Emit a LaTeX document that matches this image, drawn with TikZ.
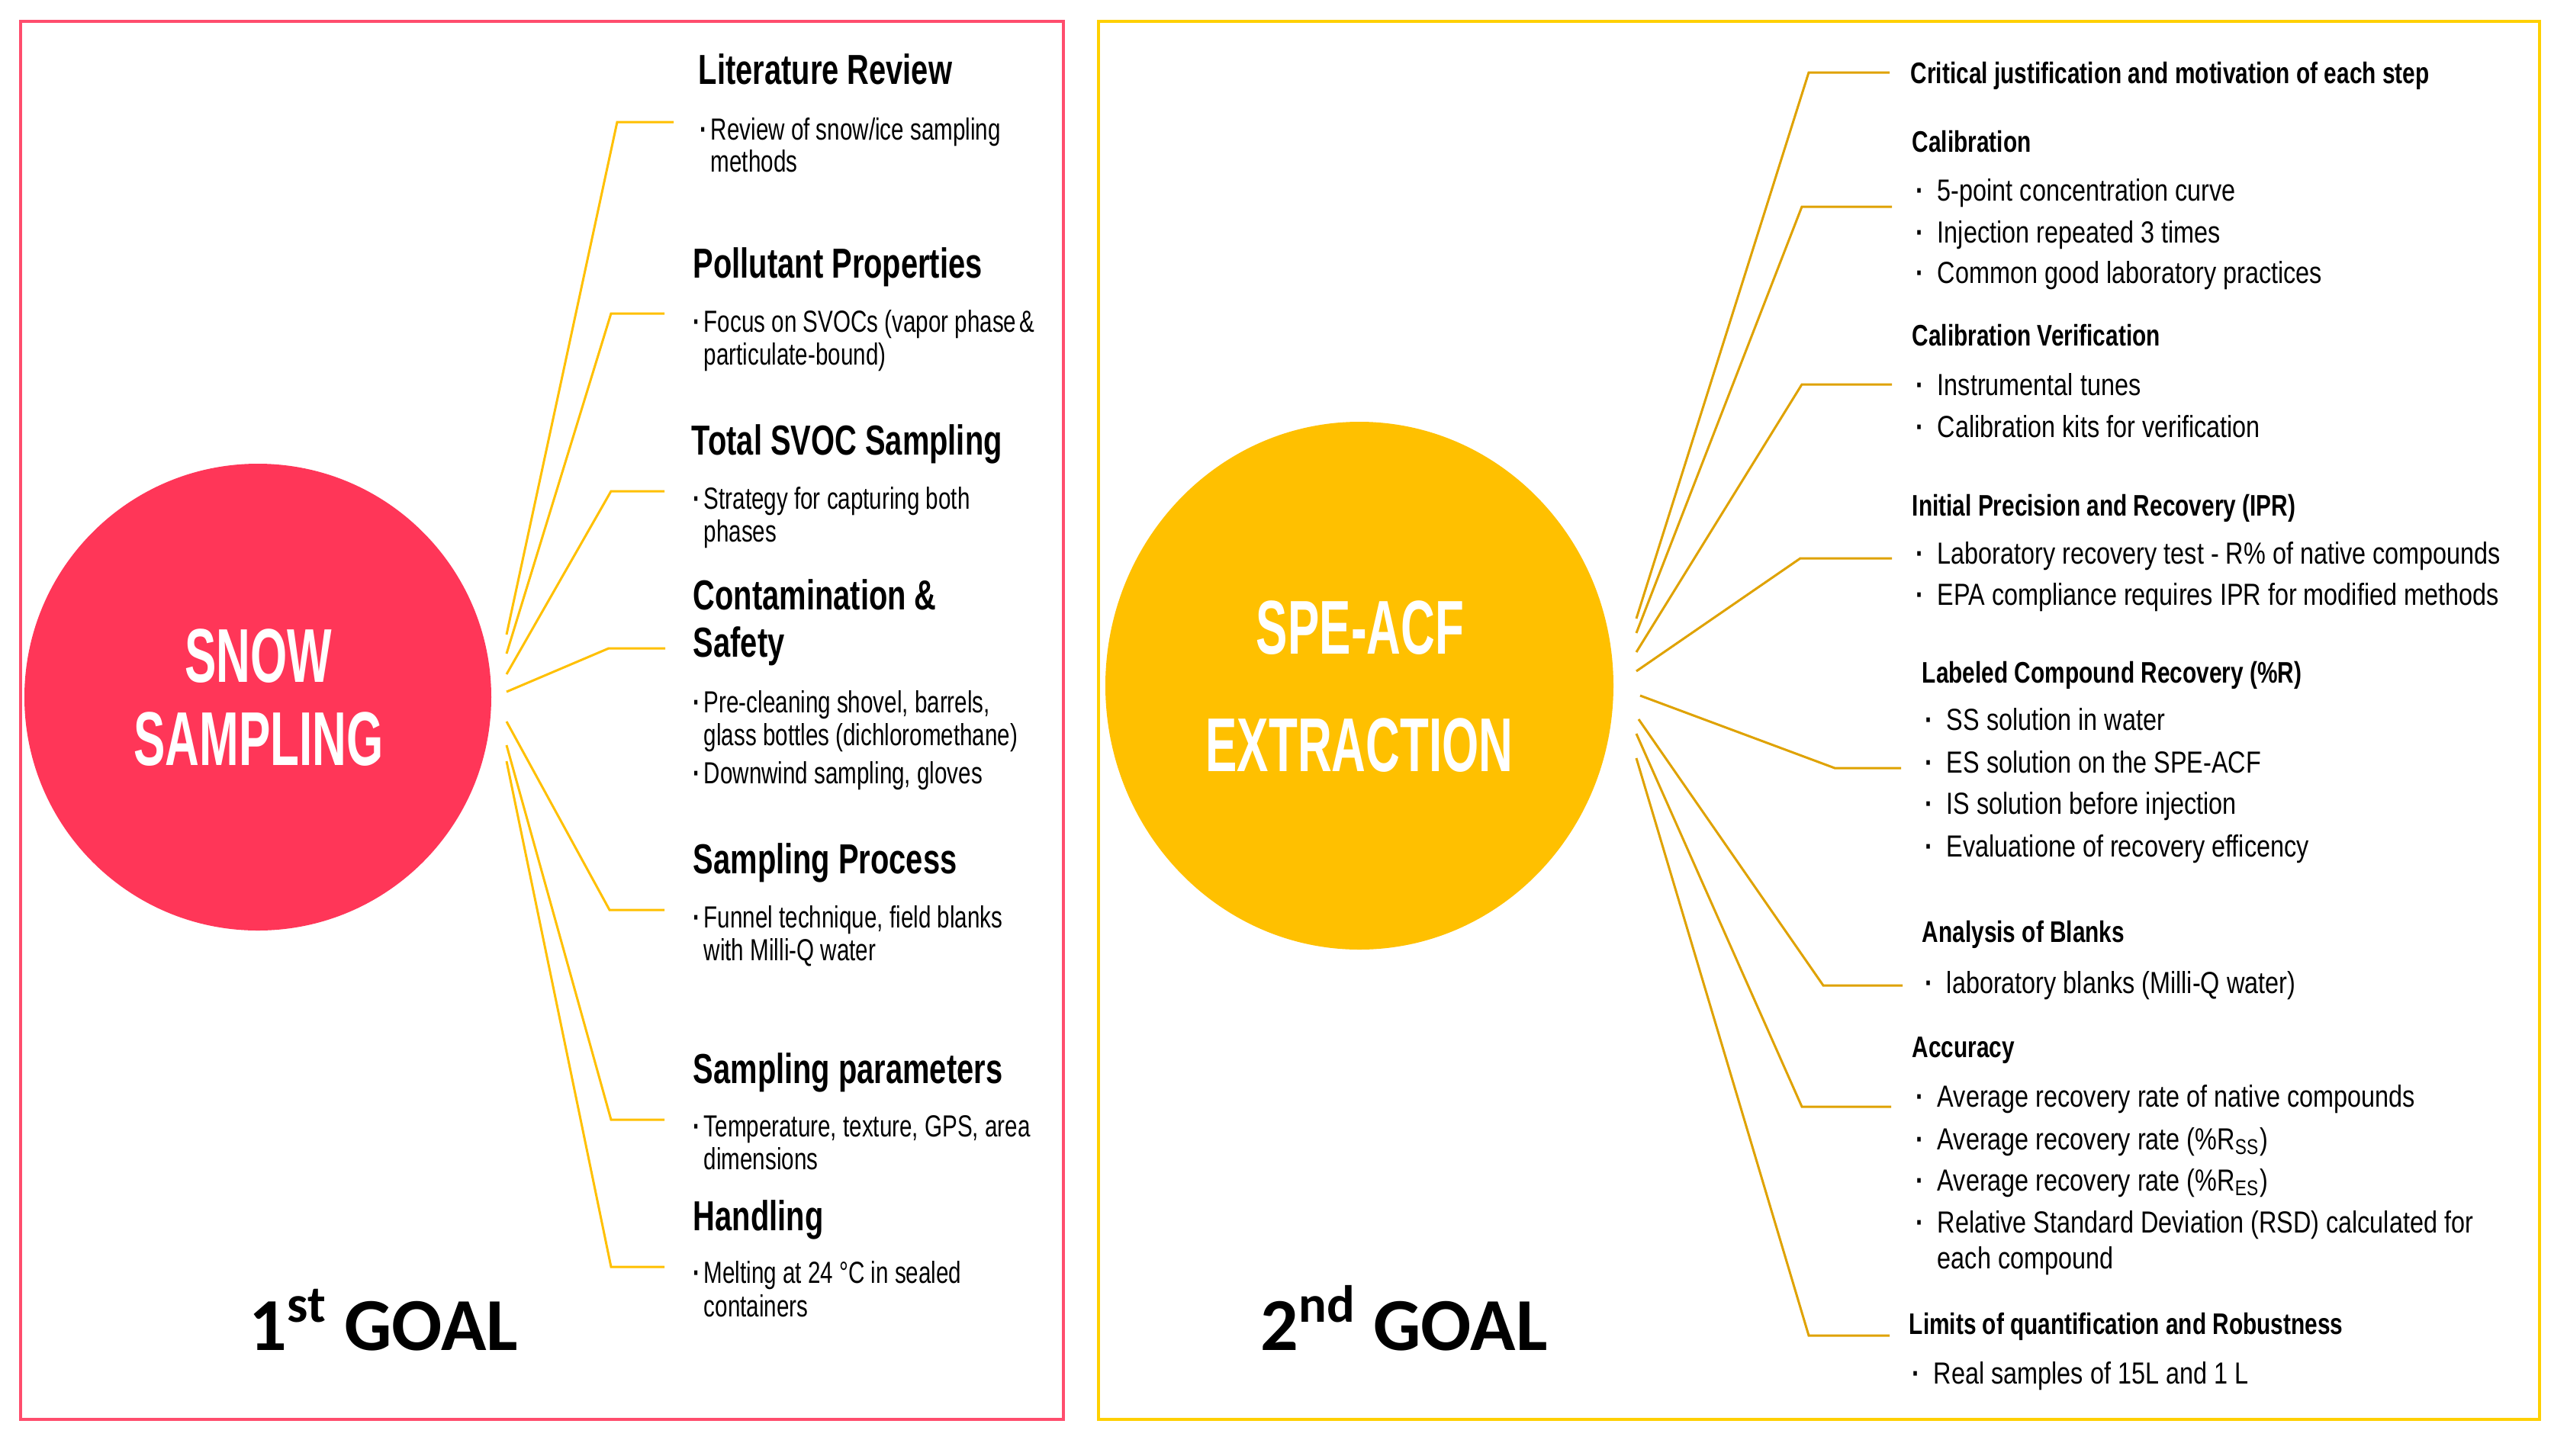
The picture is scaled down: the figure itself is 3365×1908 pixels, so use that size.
\documentclass[tikz,border=0pt]{standalone}
\usepackage{fontspec}
\usetikzlibrary{shapes.geometric}
\newfontfamily\condf[FakeStretch=0.74]{Liberation Sans}
\newfontfamily\condh[FakeStretch=0.725]{Liberation Sans}
\newfontfamily\condrh[FakeStretch=0.765]{Liberation Sans}
\newfontfamily\condr[FakeStretch=0.81]{Liberation Sans}
\newfontfamily\centf[FakeStretch=0.62]{Liberation Sans}
\newfontfamily\goalf{Carlito}
\definecolor{snowred}{HTML}{FF3658}
\definecolor{speyel}{HTML}{FFC000}
\definecolor{lborder}{HTML}{FF4D6D}
\definecolor{rborder}{HTML}{FFD000}
\definecolor{lconncol}{HTML}{FFC000}
\definecolor{rconncol}{HTML}{DFA200}
\newcommand\lbul{\makebox[3.5pt][l]{\textbf{·}}}
\newcommand\rbul{\makebox[7pt][l]{\textbf{·}}}
\tikzset{
  lhead/.style={anchor=base west, inner sep=0pt, font=\condh\bfseries\fontsize{13.75}{15.5}\selectfont},
  ltext/.style={anchor=base west, inner sep=0pt, font=\condf\fontsize{10}{10.75}\selectfont},
  rhead/.style={anchor=base west, inner sep=0pt, font=\condrh\bfseries\fontsize{9.75}{11}\selectfont},
  rtext/.style={anchor=base west, inner sep=0pt, font=\condr\fontsize{10}{11.75}\selectfont},
  centre/.style={anchor=base, inner sep=0pt, text=white, font=\centf\bfseries\fontsize{25}{27}\selectfont},
  goal/.style={anchor=base west, inner sep=0pt, font=\goalf\bfseries\fontsize{24.5}{26}\selectfont},
  lconn/.style={draw=lconncol, line width=0.75pt, line join=miter},
  rconn/.style={draw=rconncol, line width=0.75pt, line join=miter},
}
\begin{document}
\begin{tikzpicture}[x=0.25pt,y=-0.25pt]
\useasboundingbox[fill=white] (0,0) rectangle (3365,1908);
% panels
\draw[lborder, line width=0.8pt] (27,28) rectangle (1394,1861) node[pos=0, inner sep=0] (lpanel) {};
\draw[rborder, line width=0.8pt] (1440,28) rectangle (3329,1861) node[pos=0, inner sep=0] (rpanel) {};
% circles
\node[circle, fill=snowred, minimum size=153pt, inner sep=0] (snow) at (338,914) {};
\node[ellipse, fill=speyel, minimum width=166.5pt, minimum height=173pt, inner sep=0] (spe) at (1782,899) {};
\node[centre] (snowa) at (339,894) {SNOW};
\node[centre] (snowb) at (339,1003) {SAMPLING};
\node[centre] (spea) at (1783,857) {SPE-ACF};
\node[centre] (speb) at (1782,1011) {EXTRACTION};
% goals
\node[goal] (goal1) at (326,1770) {1\textsuperscript{st} GOAL};
\node[goal] (goal2) at (1652,1770) {2\textsuperscript{nd} GOAL};
% ---------------- left texts
\node[lhead] (lh1) at (915,110) {Literature Review};
\node[ltext] (lt1a) at (917,183) {\lbul Review of snow/ice sampling};
\node[ltext] (lt1b) at (931,225) {methods};
\node[lhead] (lh2) at (908,364) {Pollutant Properties};
\node[ltext] (lt2a) at (908,435) {\lbul Focus on SVOCs (vapor phase\kern1pt\&};
\node[ltext] (lt2b) at (922,478) {particulate-bound)};
\node[lhead] (lh3) at (906,596) {Total SVOC Sampling};
\node[ltext] (lt3a) at (908,667) {\lbul Strategy for capturing both};
\node[ltext] (lt3b) at (922,710) {phases};
\node[lhead] (lh4a) at (908,799) {Contamination \&};
\node[lhead] (lh4b) at (908,861) {Safety};
\node[ltext] (lt4a) at (908,934) {\lbul Pre-cleaning shovel, barrels,};
\node[ltext] (lt4b) at (922,977) {glass bottles (dichloromethane)};
\node[ltext] (lt4c) at (908,1027) {\lbul Downwind sampling, gloves};
\node[lhead] (lh5) at (908,1145) {Sampling Process};
\node[ltext] (lt5a) at (908,1216) {\lbul Funnel technique, field blanks};
\node[ltext] (lt5b) at (922,1259) {with Milli-Q water};
\node[lhead] (lh6) at (908,1420) {Sampling parameters};
\node[ltext] (lt6a) at (908,1490) {\lbul Temperature, texture, GPS, area};
\node[ltext] (lt6b) at (922,1533) {dimensions};
\node[lhead] (lh7) at (908,1613) {Handling};
\node[ltext] (lt7a) at (908,1682) {\lbul Melting at 24 °C in sealed};
\node[ltext] (lt7b) at (922,1726) {containers};
% left connectors
\coordinate (ls1) at (664,832);  \coordinate (lc1) at (809,160);  \coordinate (le1) at (883,160);
\coordinate (ls2) at (664,857);  \coordinate (lc2) at (801,411);  \coordinate (le2) at (871,411);
\coordinate (ls3) at (664,884);  \coordinate (lc3) at (801,644);  \coordinate (le3) at (871,644);
\coordinate (ls4) at (664,907);  \coordinate (lc4) at (798,850);  \coordinate (le4) at (872,850);
\coordinate (ls5) at (664,946);  \coordinate (lc5) at (799,1193); \coordinate (le5) at (871,1193);
\coordinate (ls6) at (664,977);  \coordinate (lc6) at (801,1468); \coordinate (le6) at (871,1468);
\coordinate (ls7) at (664,998);  \coordinate (lc7) at (801,1661); \coordinate (le7) at (871,1661);
\foreach \i in {1,...,7} {\draw[lconn] (ls\i) -- (lc\i) -- (le\i);}
% ---------------- right texts
\node[rhead] (rh1) at (2504,109) {Critical justification and motivation of each step};
\node[rhead] (rh2) at (2506,199) {Calibration};
\node[rtext] (rt2a) at (2511,263) {\rbul 5-point concentration curve};
\node[rtext] (rt2b) at (2511,318) {\rbul Injection repeated 3 times};
\node[rtext] (rt2c) at (2511,371) {\rbul Common good laboratory practices};
\node[rhead] (rh3) at (2506,453) {Calibration Verification};
\node[rtext] (rt3a) at (2511,518) {\rbul Instrumental tunes};
\node[rtext] (rt3b) at (2511,573) {\rbul Calibration kits for verification};
\node[rhead] (rh4) at (2506,676) {Initial Precision and Recovery (IPR)};
\node[rtext] (rt4a) at (2511,739) {\rbul Laboratory recovery test - R\% of native compounds};
\node[rtext] (rt4b) at (2511,793) {\rbul EPA compliance requires IPR for modified methods};
\node[rhead] (rh5) at (2519,895) {Labeled Compound Recovery (\%R)};
\node[rtext] (rt5a) at (2523,957) {\rbul SS solution in water};
\node[rtext] (rt5b) at (2523,1013) {\rbul ES solution on the SPE-ACF};
\node[rtext] (rt5c) at (2523,1067) {\rbul IS solution before injection};
\node[rtext] (rt5d) at (2523,1123) {\rbul Evaluatione of recovery efficency};
\node[rhead] (rh6) at (2519,1235) {Analysis of Blanks};
\node[rtext] (rt6a) at (2523,1302) {\rbul laboratory blanks (Milli-Q water)};
\node[rhead] (rh7) at (2506,1386) {Accuracy};
\node[rtext] (rt7a) at (2511,1451) {\rbul Average recovery rate of native compounds};
\node[rtext] (rt7b) at (2511,1507) {\rbul Average recovery rate (\%R\textsubscript{SS})};
\node[rtext] (rt7c) at (2511,1561) {\rbul Average recovery rate (\%R\textsubscript{ES})};
\node[rtext] (rt7d) at (2511,1616) {\rbul Relative Standard Deviation (RSD) calculated for};
\node[rtext] (rt7e) at (2539,1663) {each compound};
\node[rhead] (rh8) at (2502,1749) {Limits of quantification and Robustness};
\node[rtext] (rt8a) at (2506,1814) {\rbul Real samples of 15L and 1 L};
% right connectors
\coordinate (rs1) at (2145,811);  \coordinate (rc1) at (2371,95);   \coordinate (re1) at (2477,95);
\coordinate (rs2) at (2145,830);  \coordinate (rc2) at (2362,271);  \coordinate (re2) at (2480,271);
\coordinate (rs3) at (2145,855);  \coordinate (rc3) at (2362,504);  \coordinate (re3) at (2480,504);
\coordinate (rs4) at (2145,880);  \coordinate (rc4) at (2360,732);  \coordinate (re4) at (2480,732);
\coordinate (rs5) at (2150,912);  \coordinate (rc5) at (2405,1007); \coordinate (re5) at (2492,1007);
\coordinate (rs6) at (2148,943);  \coordinate (rc6) at (2390,1292); \coordinate (re6) at (2494,1292);
\coordinate (rs7) at (2145,962);  \coordinate (rc7) at (2362,1451); \coordinate (re7) at (2479,1451);
\coordinate (rs8) at (2145,994);  \coordinate (rc8) at (2371,1751); \coordinate (re8) at (2477,1751);
\foreach \i in {1,...,8} {\draw[rconn] (rs\i) -- (rc\i) -- (re\i);}
\end{tikzpicture}
\end{document}
